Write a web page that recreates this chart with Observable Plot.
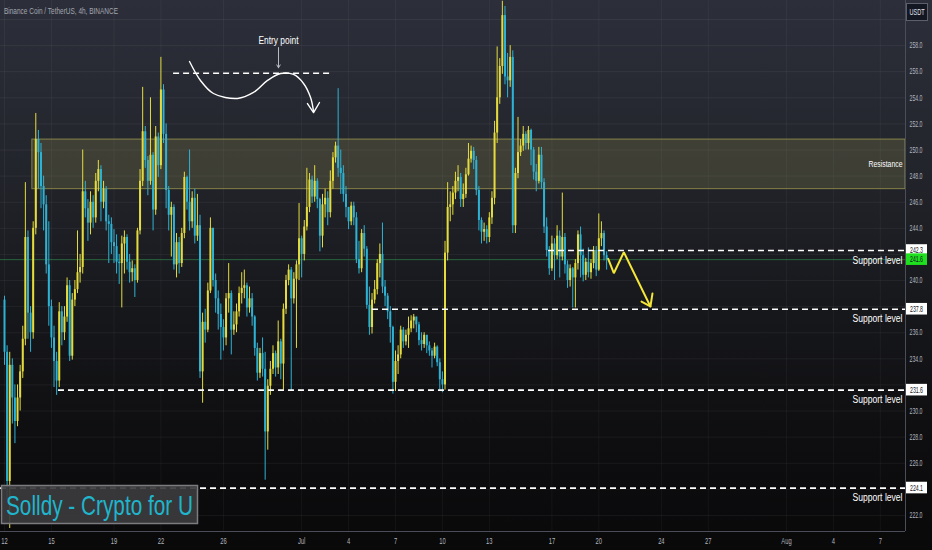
<!DOCTYPE html>
<html><head><meta charset="utf-8">
<script src="https://cdn.jsdelivr.net/npm/d3@7"></script>
<script src="https://cdn.jsdelivr.net/npm/@observablehq/plot@0.6"></script>
<style>
html,body{margin:0;padding:0;background:#0b0b0d;}
#wrap{position:relative;width:932px;height:550px;overflow:hidden;}
</style></head><body><div id="wrap"></div>
<script>
// ---------- data (BNB/USDT 4h) ----------
const title = "Binance Coin / TetherUS, 4h, BINANCE";
const watermark = "Solldy - Crypto for U";
const firstDay = "2023-06-12";      // first 4h candle opens here
const firstOpen = 238.5;
const closes = [
234.5,224.6,233.5,231.0,229.2,231.0, 233.0,235.5,243.3,237.5,236.0,244.0,
250.8,249.8,247.2,245.8,241.2,238.0, 235.6,233.8,232.3,237.6,236.0,237.2,
239.6,234.2,238.5,239.3,240.6,241.0, 246.8,245.5,244.4,246.0,244.8,247.6,
248.5,246.0,247.0,244.5,244.3,242.9, 242.6,241.4,241.3,242.8,243.3,241.4,
240.6,240.9,240.0,243.8,247.6,251.4, 249.2,247.6,249.6,245.4,251.0,248.8,
254.6,251.2,246.9,245.0,245.6,241.2, 242.9,241.3,243.6,247.9,246.0,244.5,
246.3,243.4,244.2,233.0,236.8,236.2, 239.2,244.0,240.0,238.6,237.4,236.4,
235.6,238.6,239.0,236.2,236.6,237.6, 239.0,239.4,239.6,237.9,238.6,237.2,
234.8,232.9,234.4,233.2,228.4,231.9, 233.2,234.4,233.3,235.3,233.6,237.8,
240.0,240.8,238.6,240.1,241.2,243.2, 242.0,244.1,245.6,247.7,246.4,247.6,
246.2,243.4,245.8,246.3,245.2,247.6, 249.4,250.3,248.6,248.2,246.6,245.6,
244.5,245.7,244.8,241.6,240.9,243.6, 242.4,238.1,236.4,238.5,239.3,241.3,
242.0,239.5,238.8,237.6,236.4,232.2, 233.8,234.3,236.2,235.3,235.8,236.3,
236.9,237.2,236.6,235.4,235.1,235.8, 235.0,234.6,234.2,234.9,233.7,232.4,
232.0,242.1,245.6,245.8,246.7,247.6, 247.9,246.2,246.6,248.1,249.3,249.9,
249.2,246.9,244.6,243.7,243.9,243.3, 244.8,246.3,251.3,254.0,256.4,260.3,
255.6,255.3,257.1,244.2,248.2,249.8, 250.3,251.2,250.5,251.5,250.0,248.3,
247.6,249.6,247.5,244.1,242.3,240.9, 242.8,241.9,243.4,241.8,243.3,241.2,
240.0,240.9,240.2,241.3,243.5,241.9, 240.4,241.4,240.6,241.3,242.3,240.8,
243.2,243.6,241.9,241.6];
const highs = [
238.8,235.0,234.5,234.0,232.0,232.0, 233.5,236.5,247.5,243.8,238.0,244.5,
252.8,251.5,250.5,248.0,246.5,244.5, 238.5,236.5,234.5,238.3,238.0,238.0,
240.2,240.0,239.0,240.0,243.8,242.0, 250.0,247.6,246.2,246.8,246.5,248.2,
249.2,248.8,247.6,247.2,245.0,244.8, 243.9,243.5,242.0,243.4,243.8,243.5,
242.0,241.5,241.2,244.0,248.5,254.8, 251.8,249.5,254.0,249.8,251.8,251.3,
257.1,255.0,252.0,247.2,246.0,245.8, 243.6,243.3,244.0,248.3,248.0,250.0,
246.8,247.0,246.6,245.0,237.5,237.8, 239.8,244.8,242.6,240.5,239.2,238.2,
237.0,239.0,241.3,239.2,237.6,238.2, 239.5,240.6,240.8,239.8,239.5,239.0,
237.3,235.2,234.8,235.6,234.5,232.4, 233.8,235.0,234.6,236.9,235.5,238.2,
240.4,241.2,241.0,240.6,241.5,245.9, 243.4,244.6,248.6,248.2,248.0,248.8,
247.8,246.3,246.6,247.0,246.8,248.4, 249.8,250.6,254.7,250.0,248.8,247.2,
245.3,246.0,246.0,245.2,243.0,243.9, 244.2,242.6,239.5,239.0,240.0,241.6,
242.8,244.4,240.0,239.0,238.0,236.5, 234.6,235.0,236.5,236.4,236.2,237.2,
237.3,237.4,237.2,236.8,236.0,236.0, 235.8,235.3,234.8,235.2,235.0,234.0,
233.0,243.0,247.5,246.8,247.2,248.3, 248.8,248.2,247.4,248.6,250.5,250.3,
250.2,249.5,247.2,244.8,244.4,244.2, 245.2,246.8,252.2,257.9,257.0,261.4,
261.0,257.4,258.0,257.6,248.6,252.5, 250.8,251.8,251.4,251.8,251.6,250.2,
248.9,250.2,250.2,247.8,244.8,242.6, 243.4,243.2,244.2,243.8,246.7,243.6,
241.5,241.2,241.0,241.6,243.8,244.1, 242.4,241.7,242.5,241.6,242.6,242.6,
245.1,244.5,243.8,242.2];
const lows = [
233.5,223.2,221.0,229.0,227.5,228.8, 230.0,232.5,235.0,235.5,234.5,235.5,
243.5,247.0,245.5,243.8,240.5,236.5, 234.8,231.8,231.2,231.8,235.0,235.4,
236.8,233.8,233.9,238.0,239.0,239.8, 240.5,244.8,243.0,243.5,244.0,244.4,
246.8,244.5,245.5,243.8,241.3,242.0, 241.3,240.5,239.7,237.9,240.5,240.8,
239.8,239.9,238.7,239.8,243.5,247.2, 248.6,246.5,247.3,243.8,245.0,247.9,
248.5,250.5,245.5,243.8,241.8,240.8, 240.2,240.5,241.0,243.2,245.4,243.8,
244.0,242.8,243.0,232.5,230.6,235.2, 236.0,239.0,239.5,237.5,236.2,233.9,
234.6,235.0,237.5,234.3,235.8,236.0, 237.2,238.2,238.6,237.2,237.5,236.5,
234.2,232.3,232.5,232.6,224.7,227.0, 231.2,232.8,232.6,232.8,232.4,231.6,
237.4,239.6,231.5,238.2,234.8,240.0, 240.2,241.5,243.8,245.2,245.9,246.0,
245.5,242.2,242.5,244.8,244.2,244.8, 247.0,249.0,247.9,246.6,246.0,244.8,
243.9,244.2,244.2,241.3,240.5,240.6, 241.8,237.8,235.8,235.9,238.2,238.9,
240.2,239.0,238.0,237.0,235.2,231.3, 231.5,232.8,234.0,234.8,235.0,234.8,
236.0,236.3,236.0,235.0,234.6,234.8, 234.4,234.2,233.3,234.0,233.4,231.6,
231.4,231.6,241.5,244.5,245.0,246.2, 246.8,245.6,245.6,246.3,248.0,249.0,
248.5,246.5,243.8,242.8,243.0,242.8, 242.9,244.3,245.8,250.5,253.5,255.8,
255.0,254.0,254.8,243.6,243.6,247.8, 249.5,249.9,250.0,250.0,248.8,247.7,
246.8,247.4,247.0,243.6,241.8,240.4, 240.7,240.0,241.6,240.2,241.5,240.5,
239.4,239.5,237.9,237.9,240.8,240.2, 239.9,240.0,240.2,240.1,240.9,240.3,
240.7,242.6,241.5,240.8];

const priceTicks = [222,224,226,228,230,232,234,236,238,240,242,244,246,248,250,252,254,256,258,260];
const tickDates = ["2023-06-12","2023-06-15","2023-06-19","2023-06-22","2023-06-26","2023-07-01","2023-07-04",
  "2023-07-07","2023-07-10","2023-07-13","2023-07-17","2023-07-20","2023-07-24","2023-07-27","2023-08-01",
  "2023-08-04","2023-08-07"];
const viewFrom = "2023-06-11T17:51Z", viewTo = "2023-08-08T14:38Z";

const supportLevels = [242.3, 237.8, 231.6, 224.1];
const supportFrom = ["2023-07-16T18:43Z","2023-07-05T12:43Z","2023-06-15T10:48Z","2023-06-11T17:51Z"];
const lastPrice = 241.6;
const resistanceLow = 247.0, resistanceHigh = 250.8, resistanceFrom = "2023-06-13T18:43Z";
const entryLevel = 255.88, entryFrom = "2023-06-22T19:27Z", entryTo = "2023-07-02T20:10Z";
const entryLabelAt = ["2023-06-29T12:29Z", 258.4];
const entryArrow = ["2023-06-29T12:29Z", 257.85, 256.3];
// hand-drawn curve ("Entry point" sketch), [time, price]
const sketchCurve = [["2023-06-23T19:55Z",256.78],["2023-06-24T12:43Z",255.33],["2023-06-25T08:38Z",254.33],
  ["2023-06-26T21:36Z",253.95],["2023-06-27T22:05Z",254.41],["2023-06-28T19:41Z",255.33],["2023-06-29T15:36Z",255.86],
  ["2023-06-30T11:31Z",255.79],["2023-07-01T02:53Z",255.10],["2023-07-01T13:41Z",254.02],["2023-07-01T18:14Z",252.95]];
const sketchHead = [["2023-07-01T08:53Z",253.56],["2023-07-01T18:14Z",252.87],["2023-07-02T03:22Z",253.64]];
// yellow projection arrow
const projection = [["2023-07-20T14:24Z",241.66],["2023-07-20T23:02Z",240.56],["2023-07-21T14:24Z",242.17],["2023-07-23T07:12Z",238.01]];
const projectionHead = [["2023-07-22T17:31Z",238.39],["2023-07-23T07:12Z",238.01],["2023-07-23T10:19Z",239.0]];

// ---------- build ----------
const UP = "#e4dc3e", DOWN = "#2eb2d4";
const t0 = Date.parse(firstDay + "T00:00Z");
const candles = closes.map((c, i) => {
  const o = i ? closes[i - 1] : firstOpen;
  return {date: new Date(t0 + i * 4 * 3600e3), open: o, close: c,
          high: Math.max(highs[i], o, c), low: Math.min(lows[i], o, c)};
});
const D = s => new Date(s);
const pts = a => a.map(([t, p]) => ({x: D(t), y: p}));
const xDomain = [D(viewFrom), D(viewTo)];
const yDomain = [220.77, 261.456];
const months = ["Jan","Feb","Mar","Apr","May","Jun","Jul","Aug","Sep","Oct","Nov","Dec"];
const fmtDate = d => d.getUTCDate() === 1 ? months[d.getUTCMonth()] : String(d.getUTCDate());
const supports = supportLevels.map((v, i) => ({y: v, x1: D(supportFrom[i]), x2: xDomain[1]}));
const tagLevels = [...supportLevels, lastPrice];
// labels hidden under the price tags / the USDT box, as on the reference
const shownTicks = priceTicks.filter(v => v < 259 && !tagLevels.some(l => Math.abs(l - v) < 0.5));
const FONT = "'Liberation Sans', Arial, sans-serif";

const chart = Plot.plot({
  width: 932, height: 550,
  marginLeft: 0, marginRight: 27, marginTop: 0, marginBottom: 19,
  style: {background: "linear-gradient(180deg,#2c2f3a 0%,#23252c 30%,#17181c 55%,#0e0e10 80%,#09090a 100%)",
          fontFamily: FONT, color: "#b2b5be", overflow: "visible"},
  x: {type: "utc", domain: xDomain, label: null},
  y: {domain: yDomain, label: null},
  marks: [
    Plot.gridY(priceTicks, {stroke: "#ffffff", strokeOpacity: 0.055}),
    Plot.gridX(tickDates.map(D), {stroke: "#ffffff", strokeOpacity: 0.045}),
    Plot.rect([{x1: D(resistanceFrom), x2: xDomain[1], y1: resistanceLow, y2: resistanceHigh}],
      {x1: "x1", x2: "x2", y1: "y1", y2: "y2", fill: "#a09a55", fillOpacity: 0.22, stroke: "#aaa552", strokeOpacity: 0.7, strokeWidth: 1}),
    Plot.ruleY([lastPrice], {stroke: "#2f8a4a", strokeOpacity: 0.65, strokeWidth: 1}),
    Plot.ruleX(candles, {x: "date", y1: "low", y2: "high", stroke: d => d.close >= d.open ? UP : DOWN, strokeWidth: 1}),
    Plot.ruleX(candles, {x: "date", y1: "open", y2: "close", stroke: d => d.close >= d.open ? UP : DOWN, strokeWidth: 2}),
    Plot.ruleY(supports, {y: "y", x1: "x1", x2: "x2", stroke: "#ffffff", strokeWidth: 1.7, strokeDasharray: "6,4"}),
    Plot.ruleY([{y: entryLevel, x1: D(entryFrom), x2: D(entryTo)}], {y: "y", x1: "x1", x2: "x2", stroke: "#ffffff", strokeWidth: 1.7, strokeDasharray: "6,4"}),
    Plot.line(pts(sketchCurve), {x: "x", y: "y", curve: "catmull-rom", stroke: "#ffffff", strokeWidth: 1.4}),
    Plot.line(pts(sketchHead), {x: "x", y: "y", stroke: "#ffffff", strokeWidth: 1.4}),
    Plot.arrow([{x: D(entryArrow[0]), y1: entryArrow[1], y2: entryArrow[2]}], {x1: "x", x2: "x", y1: "y1", y2: "y2", stroke: "#b8bac0", strokeWidth: 1, headLength: 5}),
    Plot.text([{x: D(entryLabelAt[0]), y: entryLabelAt[1], t: "Entry point"}], {x: "x", y: "y", text: "t", fill: "#ffffff", fontSize: 10}),
    Plot.line(pts(projection), {x: "x", y: "y", stroke: "#f3e638", strokeWidth: 2, strokeLinejoin: "miter"}),
    Plot.line(pts(projectionHead), {x: "x", y: "y", stroke: "#f3e638", strokeWidth: 2, strokeLinejoin: "miter"}),
    Plot.text(supportLevels, {y: d => d, text: () => "Support level", frameAnchor: "right", textAnchor: "end", dx: -3, dy: 10, fill: "#ffffff", fontSize: 10}),
    Plot.text([(resistanceLow + resistanceHigh) / 2], {y: d => d, text: () => "Resistance", frameAnchor: "right", textAnchor: "end", dx: -3, fill: "#ffffff", fontSize: 9.5}),
    Plot.axisY(shownTicks, {anchor: "right", tickSize: 0, tickPadding: 4, tickFormat: d => d.toFixed(1), fontSize: 8.5, color: "#b2b5be", label: null}),
    Plot.axisX(tickDates.map(D), {anchor: "bottom", tickSize: 0, tickPadding: 6, tickFormat: fmtDate, fontSize: 8.5, color: "#b2b5be", label: null}),
    Plot.ruleX([xDomain[1]], {stroke: "#4b4e58", strokeWidth: 1}),
    Plot.ruleY([yDomain[0]], {stroke: "#4b4e58", strokeWidth: 1})
  ]
});
document.getElementById("wrap").append(chart);

// condensed (TradingView-like) text widths
const squeeze = (el, w) => { el.setAttribute("textLength", w); el.setAttribute("lengthAdjust", "spacingAndGlyphs"); };
chart.querySelectorAll('g[aria-label="y-axis tick label"] text').forEach(t => squeeze(t, t.getComputedTextLength() * 0.61));
chart.querySelectorAll('g[aria-label="x-axis tick label"] text').forEach(t => squeeze(t, t.getComputedTextLength() * 0.68));
const widths = {"Entry point": 40, "Support level": 50, "Resistance": 34};
chart.querySelectorAll("text").forEach(t => { if (widths[t.textContent]) squeeze(t, widths[t.textContent]); });

// overlays: price tags, USDT box, header, watermark
const ys = chart.scale("y");
const svg = d3.select(chart);
const tags = [[242.3, "#ffffff"], [237.8, "#ffffff"], [231.6, "#ffffff"], [224.1, "#ffffff"], [lastPrice, "#1fe01f"]];
const g = svg.append("g").attr("font-family", FONT).attr("text-anchor", "start");
tags.forEach(([v, bg]) => {
  const y = ys.apply(v);
  g.append("rect").attr("x", 906).attr("y", y - 5.8).attr("width", 21).attr("height", 11.6).attr("fill", bg);
  const tx = g.append("text").attr("x", 916.5).attr("y", y).attr("dy", "0.35em").attr("text-anchor", "middle")
    .attr("font-size", 8.5).attr("fill", "#131722").text(v.toFixed(1));
  squeeze(tx.node(), 13);
});
g.append("rect").attr("x", 906.5).attr("y", 3.5).attr("width", 21).attr("height", 17).attr("fill", "#131722").attr("stroke", "#5d606b");
squeeze(g.append("text").attr("x", 917).attr("y", 15).attr("text-anchor", "middle").attr("font-size", 8.5).attr("fill", "#e0e3eb").text("USDT").node(), 15);
squeeze(g.append("text").attr("x", 4).attr("y", 14).attr("text-anchor", "start").attr("font-size", 8.5).attr("fill", "#a3a6af").text(title).node(), 114);
g.append("rect").attr("x", 1.5).attr("y", 485.5).attr("width", 196).attr("height", 38).attr("fill", "#3c3c3e").attr("fill-opacity", 0.92).attr("stroke", "#7c7c80").attr("stroke-width", 1.5);
squeeze(g.append("text").attr("x", 6).attr("y", 515).attr("text-anchor", "start").attr("font-size", 28).attr("fill", "#1fb5cc").text(watermark).node(), 187);
</script></body></html>
